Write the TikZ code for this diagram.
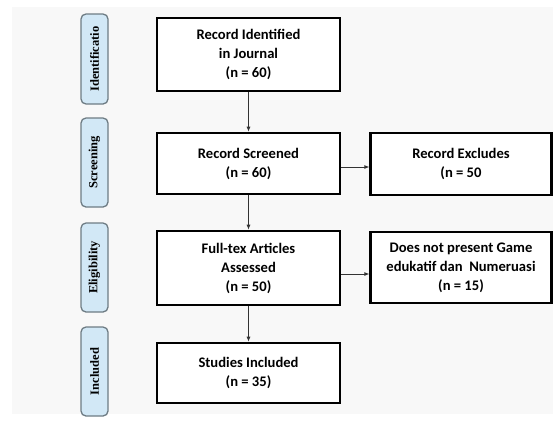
\documentclass[tikz,border=0pt]{standalone}
\usepackage{fontspec}
\setmainfont{Carlito}
\newfontfamily\labfont{Liberation Serif}
\usetikzlibrary{arrows.meta}
\definecolor{sidefill}{HTML}{D2E8F6}
\definecolor{sidedraw}{HTML}{6E7C84}
\definecolor{bgpanel}{HTML}{F8F8F8}
\tikzset{
  mainbox/.style={draw=black, line width=2.6pt, fill=white, align=center, font=\fontsize{14.6}{19}\selectfont\bfseries, inner sep=0pt},
  sidebox/.style={draw=sidedraw, line width=1.3pt, fill=sidefill, rounded corners=5pt, inner sep=0pt},
  sidetext/.style={rotate=90, font=\labfont\fontsize{12.5}{14}\selectfont\bfseries},
  conn/.style={draw=black!80, line width=0.8pt, -{Latex[length=5pt,width=4pt]}}
}
\begin{document}
\begin{tikzpicture}[x=1pt,y=-1pt]
\useasboundingbox (0,0) rectangle (553,426);
\fill[white] (0,0) rectangle (553,426);
\fill[bgpanel] (12,7) rectangle (553,414);
% side labels
\node[sidebox, minimum width=27pt, minimum height=90pt] (sid) at (94.5,59) {};
\node[sidetext] (sidt) at (sid.center) {Identificatio};
\node[sidebox, minimum width=27pt, minimum height=89pt] (sscr) at (94.5,162.5) {};
\node[sidetext] (sscrt) at (sscr.center) {Screening};
\node[sidebox, minimum width=27pt, minimum height=89pt] (selg) at (94.5,267.5) {};
\node[sidetext] (selgt) at (selg.center) {Eligibility};
\node[sidebox, minimum width=27pt, minimum height=89pt] (sinc) at (94.5,371.5) {};
\node[sidetext] (sinct) at (sinc.center) {Included};
% main boxes
\node[mainbox, minimum width=183pt, minimum height=73pt] (b1) at (248.5,54.5) {Record Identified\\in Journal\\(n = 60)};
\node[mainbox, minimum width=183pt, minimum height=61pt] (b2) at (248.5,163.5) {Record Screened\\(n = 60)};
\node[mainbox, minimum width=183pt, minimum height=74pt] (b3) at (248.5,268) {Full-tex Articles\\Assessed\\(n = 50)};
\node[mainbox, minimum width=183pt, minimum height=60pt] (b4) at (248.5,373) {Studies Included\\(n = 35)};
% right boxes
\node[mainbox, line width=2.3pt, minimum width=181pt, minimum height=62pt] (r1) at (461,164) {Record Excludes\\(n = 50};
\node[mainbox, line width=2.3pt, minimum width=181pt, minimum height=71pt] (r2) at (461,267.5) {Does not present Game\\edukatif dan\ \ Numeruasi\\(n = 15)};
% connectors
\draw[conn] (b1.south) -- (b2.north);
\draw[conn] (b2.south) -- (b3.north);
\draw[conn] (b3.south) -- (b4.north);
\draw[conn] (b2.east |- 0,167) -- (r1.west |- 0,167);
\draw[conn] (b3.east |- 0,274) -- (r2.west |- 0,274);
\end{tikzpicture}
\end{document}
